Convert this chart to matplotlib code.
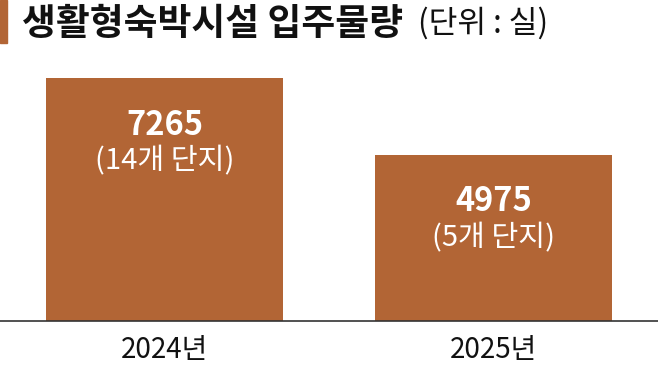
import matplotlib.pyplot as plt
from matplotlib.patches import Rectangle

plt.rcParams['font.family'] = ['Noto Sans CJK KR', 'DejaVu Sans']

# data
years = ['2024년', '2025년']
units = [7265, 4975]
complexes = ['(14개 단지)', '(5개 단지)']

bar_color = '#B26535'

fig = plt.figure(figsize=(6.58, 3.67), dpi=100)
# axes: full width, bottom at the baseline, top where the tallest bar ends
ax = fig.add_axes([0, 1 - 321 / 367, 1, (321 - 78) / 367])

x = range(len(years))
bars = ax.bar(x, units, width=0.72, color=bar_color)
ax.set_xlim(-0.5, 1.5)
ax.set_ylim(0, max(units))

for b, v, c in zip(bars, units, complexes):
    cx = b.get_x() + b.get_width() / 2
    top = b.get_height()
    ax.annotate(str(v), (cx, top), xytext=(0, -34), textcoords='offset points',
                ha='center', va='center', color='white', fontsize=23.5, fontweight='bold')
    ax.annotate(c, (cx, top), xytext=(0, -60), textcoords='offset points',
                ha='center', va='center', color='white', fontsize=21)

for s in ['top', 'left', 'right']:
    ax.spines[s].set_visible(False)
ax.spines['bottom'].set_color('#333333')
ax.spines['bottom'].set_linewidth(1.2)
ax.set_yticks([])
ax.set_xticks(list(x))
ax.set_xticklabels(years, fontsize=20, color='#111111')
ax.tick_params(axis='x', length=0, pad=10)

# title block
fig.patches.append(Rectangle((0, 1 - 43 / 367), 7 / 658, 43 / 367,
                             transform=fig.transFigure, color=bar_color))
fig.text(22 / 658, 1 - 35 / 367, '생활형숙박시설 입주물량', fontsize=26.5,
         fontweight='bold', color='#111111', va='baseline', ha='left')
fig.text(418 / 658, 1 - 33 / 367, '(단위 : 실)', fontsize=22.5,
         color='#111111', va='baseline', ha='left')

fig.savefig('out.png', dpi=100)
